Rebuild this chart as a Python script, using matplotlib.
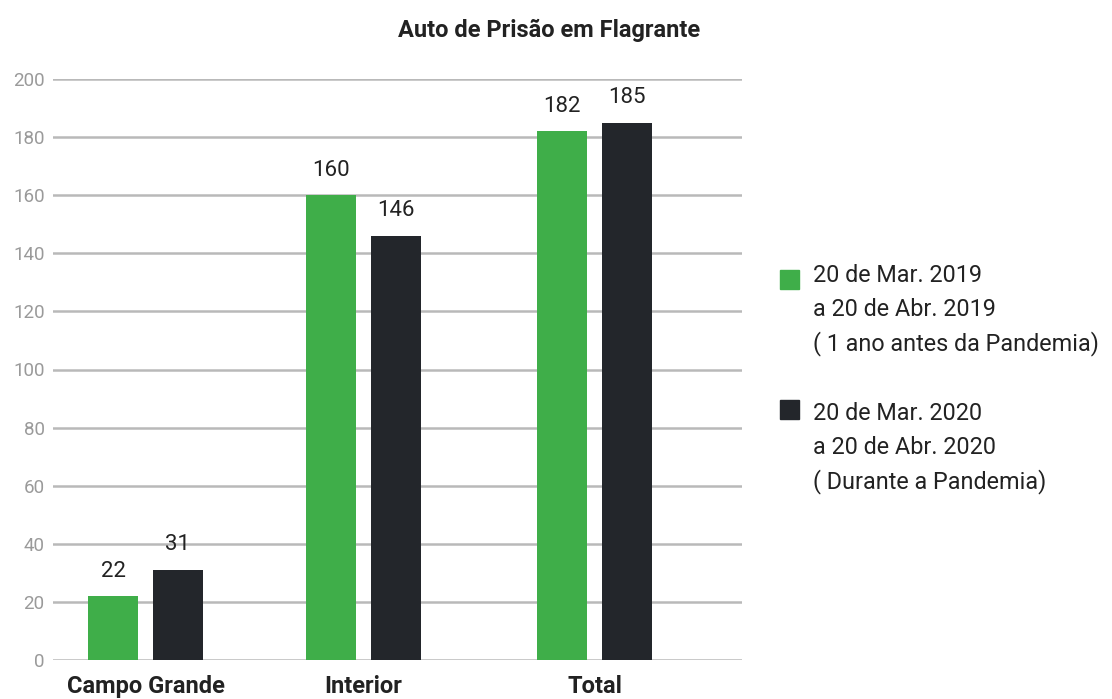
import matplotlib.pyplot as plt
from matplotlib.patches import Rectangle

plt.rcParams['font.family'] = ['Roboto', 'DejaVu Sans']

# Dados
categorias = ["Campo Grande", "Interior", "Total"]
periodo_2019 = [22, 160, 182]
periodo_2020 = [31, 146, 185]
legenda_2019 = ["20 de Mar. 2019", "a 20 de Abr. 2019", "( 1 ano antes da Pandemia)"]
legenda_2020 = ["20 de Mar. 2020", "a 20 de Abr. 2020", "( Durante a Pandemia)"]
yticks = list(range(0, 201, 20))

verde = "#3fae49"
escuro = "#23262b"
cinza = "#b9b9b9"

W, H = 1112, 699
fig = plt.figure(figsize=(W / 100, H / 100), dpi=100)

# eixo em pixels: x 53..742, y (0) 660 .. (200) 79
ax = fig.add_axes([53 / W, 1 - 660 / H, (742 - 53) / W, (660 - 79) / H])
ax.set_xlim(53, 742)
ax.set_ylim(0, 200)

centros = [145.5, 363.5, 594.5]
larg = 50
desloc = 32.5

for c, v1, v2 in zip(centros, periodo_2019, periodo_2020):
    ax.bar(c - desloc, v1, width=larg, color=verde, zorder=3)
    ax.bar(c + desloc, v2, width=larg, color=escuro, zorder=3)
    ax.text(c - desloc, v1 + 5, str(v1), ha="center", va="bottom",
            fontsize=16, color="#222222", zorder=4)
    ax.text(c + desloc, v2 + 5, str(v2), ha="center", va="bottom",
            fontsize=16, color="#222222", zorder=4)

for y in yticks:
    ax.axhline(y, color=cinza, lw=1.8, zorder=1)

ax.set_yticks(yticks)
ax.set_yticklabels([str(y) for y in yticks], fontsize=13.5, color="#9a9a9a")
ax.tick_params(axis="y", length=0, pad=6)
ax.set_xticks(centros)
ax.set_xticklabels(categorias, fontsize=17, fontweight="bold", color="#222222")
ax.tick_params(axis="x", length=0, pad=11)
for s in ax.spines.values():
    s.set_visible(False)

fig.text(549 / W, 1 - 30 / H, "Auto de Prisão em Flagrante", ha="center", va="center",
         fontsize=17, fontweight="bold", color="#222222")

# legenda
def entrada(y0, cor, linhas, yq):
    fig.patches.append(Rectangle((780 / W, 1 - (yq + 9.5) / H), 19 / W, 19 / H,
                                 transform=fig.transFigure, color=cor))
    for i, t in enumerate(linhas):
        fig.text(813 / W, 1 - (y0 + i * 34) / H, t, ha="left", va="center",
                 fontsize=16.8, color="#222222")

entrada(276, verde, legenda_2019, 279)
entrada(414, escuro, legenda_2020, 410)

fig.savefig("out.png", dpi=100, facecolor="white")
